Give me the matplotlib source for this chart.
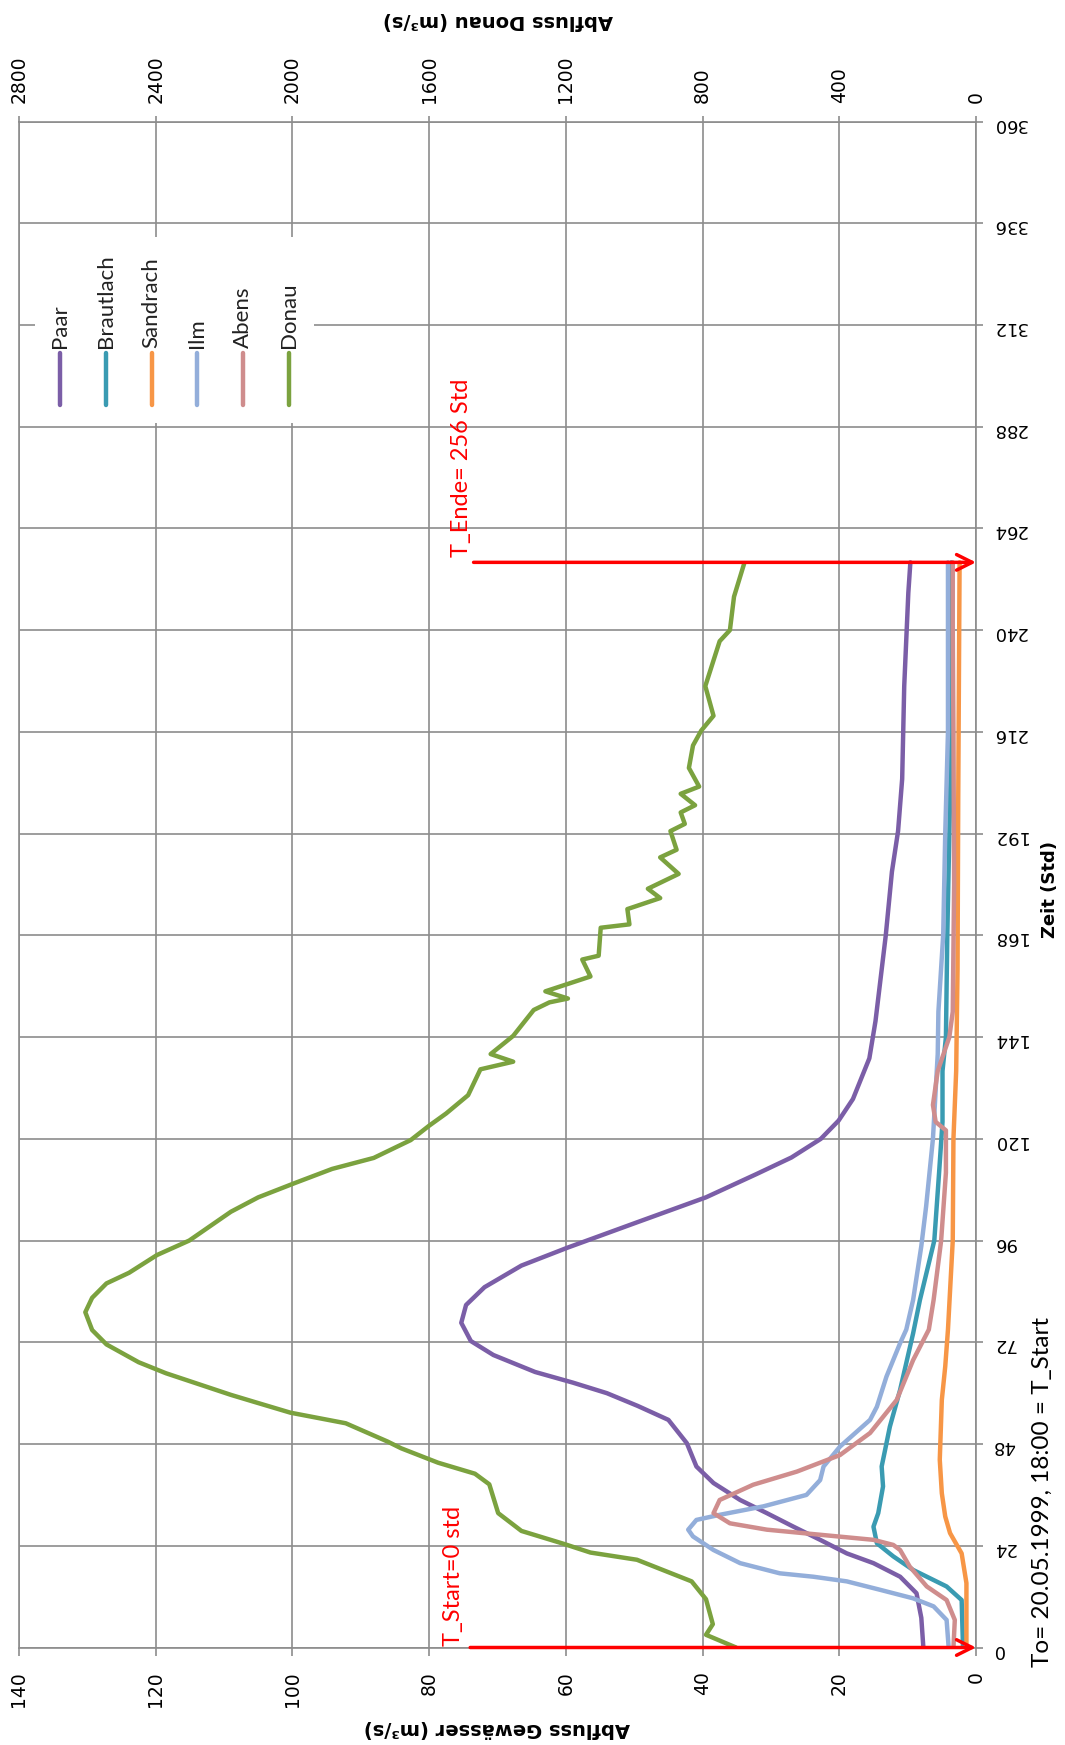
import matplotlib.pyplot as plt
from matplotlib.patches import Rectangle

# Hochwasserwelle Mai 1999: Abfluss der Nebenflüsse und der Donau über die Zeit
# (Zeit in Std ab T_Start, Abfluss in m³/s)

paar_t = [0, 7, 12.8, 16.7, 19.9, 22.2, 25.4, 28.5, 31.7, 34.8, 38.8, 42.7, 48.2, 53.7,
          57, 60, 62.5, 65, 69, 72.3, 76.6, 80.8, 85, 90.1, 94.3, 100.3, 106.2, 111.7,
          115.6, 120, 124.3, 129.4, 139, 147.8, 168, 183, 192.6, 204.9, 226.8, 248.8, 256]
paar_q = [7.7, 8.0, 8.7, 11.1, 15, 18.9, 22.8, 26.7, 30.6, 34.5, 38.4, 40.9, 42.3, 45,
          49.5, 54, 59, 64.5, 70.6, 73.9, 75.3, 74.6, 71.9, 66.5, 59.8, 49.6, 39.5, 32.1,
          27, 22.7, 20.1, 18, 15.6, 14.7, 13.2, 12.3, 11.4, 10.8, 10.5, 9.9, 9.6]

brautlach_t = [0, 11.2, 14.4, 18.3, 21.5, 24.6, 28.5, 31.7, 38, 42.7, 46.6, 52.1, 60.8,
               74.1, 82, 96, 112, 124, 136, 144, 168, 192, 216, 256]
brautlach_q = [1.9, 2.1, 4.3, 9.2, 12.1, 14.5, 15, 14.3, 13.6, 13.8, 13.3, 12.6, 11.1,
               9.2, 8.2, 6.1, 5.4, 4.9, 4.9, 4.4, 4.2, 3.9, 3.6, 3.6]

sandrach_t = [0, 15.2, 22.2, 27, 30.9, 36.4, 44.3, 58.4, 66.3, 75, 96, 120, 136, 160,
              200, 256]
sandrach_q = [1.4, 1.4, 2.1, 3.8, 4.5, 5.0, 5.3, 5.0, 4.5, 4.1, 3.4, 3.3, 2.9, 2.7,
              2.6, 2.4]

ilm_t = [0, 6.5, 9.7, 11.6, 13.6, 15.6, 16.7, 17.5, 19.9, 23, 26.2, 27.8, 30.1, 31.3,
         33.3, 36, 39.5, 42.7, 47.4, 53.7, 56.8, 63.9, 71.8, 75, 82, 94.7, 104, 120,
         140, 150, 168, 192, 216, 256]
ilm_q = [4.0, 4.3, 6.2, 9.2, 14, 18.9, 23.8, 28.7, 34.5, 38.4, 41.4, 42.1, 40.9, 37.5,
         31.1, 24.8, 22.8, 22.3, 19.9, 15.5, 14.5, 13.1, 11.1, 10.2, 9.2, 8.0, 7.3, 6.3,
         5.6, 5.5, 4.8, 4.5, 4.1, 4.1]

abens_t = [0, 6.5, 11.2, 14.4, 19.1, 23, 24.2, 25.4, 26.6, 27.8, 29.3, 31.7, 34.8, 38.4,
           41.5, 45.4, 50.6, 58.4, 67.8, 75, 82, 96, 112, 122, 124, 128, 136, 144, 150,
           180, 216, 240, 256]
abens_q = [3.3, 3.1, 4.3, 7.2, 9.7, 11.1, 12.1, 15, 22.8, 30.6, 36, 38.4, 37.5, 32.6,
           26.2, 19.9, 15.5, 11.6, 9.2, 6.9, 6.2, 5.1, 4.4, 4.4, 5.9, 6.3, 5.6, 3.9, 3.4,
           3.2, 3.3, 3.4, 3.4]

donau_t = [0, 3, 5.5, 11.4, 15.6, 20.7, 22.4, 24.5, 27.5, 31.7, 38.5, 41, 43.6, 47, 48.6,
           52.9, 55.4, 58, 59.6, 64.7, 67.3, 71.5, 74.9, 79.1, 82.5, 85.9, 88.4, 92.6,
           96, 102.8, 106.2, 109.6, 112.9, 115.5, 119.7, 123.1, 126, 130.3, 136.4,
           138.2, 140, 144.3, 150.4, 152.2, 153.1, 154.8, 158.3, 162.3, 163.2, 169.8,
           170.6, 174.2, 176.8, 179, 182.5, 186.4, 188.2, 192.6, 194.3, 197, 198.7,
           201.4, 203.1, 207.5, 212.8, 216.3, 219.8, 226.8, 237.4, 240, 247.9, 255.8]
donau_q = [702, 790, 770, 790, 832, 992, 1128, 1208, 1330, 1398, 1424, 1466, 1574, 1682,
           1722, 1844, 2006, 2114, 2180, 2370, 2450, 2544, 2586, 2606, 2586, 2544, 2478,
           2396, 2302, 2180, 2100, 1992, 1884, 1762, 1654, 1600, 1550, 1486, 1450, 1354,
           1420, 1354, 1294, 1248, 1194, 1260, 1128, 1152, 1104, 1098, 1014, 1020, 924,
           960, 870, 924, 876, 894, 852, 864, 822, 864, 810, 840, 828, 804, 768, 792, 750,
           720, 708, 678]

t_start = 0
t_ende = 256

names = ['Paar', 'Brautlach', 'Sandrach', 'Ilm', 'Abens', 'Donau']
colors = ['#7B5EA7', '#3A9BB2', '#F79646', '#93AEDA', '#CF8D8D', '#7BA23F']

grid_c = '#8c8c8c'
lw = 3.2

fig = plt.figure(figsize=(10.65, 17.45), dpi=100)
ax = fig.add_axes([0.01784, 0.05587, 0.89859, 0.87450])

ax.set_xlim(140, 0)
ax.set_ylim(0, 360)
ax.set_xticks(range(0, 141, 20))
ax.set_yticks(range(0, 361, 24))
ax.yaxis.tick_right()
ax.grid(True, color=grid_c, lw=1.2)
ax.set_axisbelow(True)
for s in ax.spines.values():
    s.set_color(grid_c)
    s.set_linewidth(1.2)

series = [(paar_q, paar_t), (brautlach_q, brautlach_t), (sandrach_q, sandrach_t),
          (ilm_q, ilm_t), (abens_q, abens_t)]
for (q, t), c in zip(series, colors):
    ax.plot(q, t, color=c, lw=lw, solid_joinstyle='round', solid_capstyle='round')

# Donau auf eigener Achse (oben)
ax2 = ax.twiny()
ax2.set_xlim(2800, 0)
ax2.set_xticks(range(0, 2801, 400))
ax2.plot(donau_q, donau_t, color=colors[5], lw=lw, solid_joinstyle='round',
         solid_capstyle='round')
for s in ax2.spines.values():
    s.set_visible(False)

ax.tick_params(axis='x', bottom=True, top=False, length=6, width=1.2, color=grid_c,
               pad=11, labelsize=13.5, labelrotation=90)
ax.tick_params(axis='y', left=False, right=True, labelleft=False, labelright=True,
               length=5, width=1.2, color=grid_c, pad=7, labelsize=13,
               labelrotation=180)
ax2.tick_params(axis='x', top=True, length=4, width=1.2, color=grid_c, pad=9,
                labelsize=13.5, labelrotation=90)

# T_Start / T_Ende Markierungen
arrow = dict(arrowstyle='->', color='red', lw=2.5, mutation_scale=28,
             shrinkA=0, shrinkB=0)
ax2.annotate('', xy=(0, t_start), xytext=(74, t_start), xycoords=ax.transData,
             textcoords=ax.transData, arrowprops=arrow, annotation_clip=False)
ax2.annotate('', xy=(0, t_ende), xytext=(73.5, t_ende), xycoords=ax.transData,
             textcoords=ax.transData, arrowprops=arrow, annotation_clip=False)
ax2.text(76.5, t_start + 0.3, 'T_Start=0 std', transform=ax.transData, color='red',
         rotation=90, ha='center', va='bottom', fontsize=17, family='Lato')
ax2.text(75.2, t_ende + 1.3, 'T_Ende= 256 Std', transform=ax.transData, color='red',
         rotation=90, ha='center', va='bottom', fontsize=17, family='Lato')

# Legende (senkrecht)
ax2.add_patch(Rectangle((0.0167, 0.8025), 0.292, 0.122, transform=ax2.transAxes,
                        facecolor='white', edgecolor='none', zorder=5))
for i, (n, c) in enumerate(zip(names, colors)):
    x = 0.0428 + i * 0.0479
    ax2.plot([x, x], [0.8143, 0.8483], transform=ax2.transAxes, color=c, lw=lw,
             solid_capstyle='round', zorder=6)
    ax2.text(x, 0.8516, n, transform=ax2.transAxes, rotation=90, ha='center',
             va='bottom', fontsize=16, family='Lato', color='#222222', zorder=6)

# Achsentitel
fig.text(0.4667, 0.0092, 'Abfluss Gewässer (m³/s)', rotation=180, ha='center',
         va='center', fontsize=14, fontweight='bold')
fig.text(0.4676, 0.988, 'Abfluss Donau (m³/s)', rotation=180, ha='center',
         va='center', fontsize=14, fontweight='bold')
fig.text(0.986, 0.49, 'Zeit (Std)', rotation=90, ha='center', va='center',
         fontsize=13, fontweight='bold')
fig.text(0.979, 0.0447, 'To= 20.05.1999, 18:00 = T_Start', rotation=90, ha='center',
         va='bottom', fontsize=17.5, family='Lato')

fig.savefig('out.png', dpi=100)
